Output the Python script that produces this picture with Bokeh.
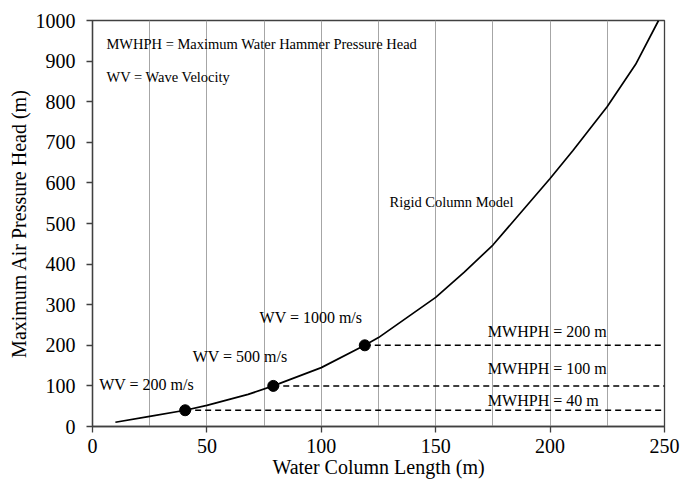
from bokeh.plotting import figure
from bokeh.models import Range1d, SingleIntervalTicker
from bokeh.core.properties import value
from bokeh.embed import file_html
from bokeh.resources import INLINE

# Rigid column model curve
curve_x = [10, 25, 40.5, 50, 68, 79, 100, 119, 125, 150, 162.5, 175, 200, 210, 225, 237.4, 247.4]
curve_y = [10.5, 25, 40, 52, 79, 100, 145, 200, 219, 318, 380, 447, 611, 680, 788, 892, 1000]

# Marked points (WV cases) and MWHPH levels
pt_x = [40.5, 79, 119]
pt_y = [40, 100, 200]
x_end = 250

wv_labels = ["WV = 200 m/s", "WV = 500 m/s", "WV = 1000 m/s"]
mw_labels = ["MWHPH = 40 m", "MWHPH = 100 m", "MWHPH = 200 m"]
note_labels = ["MWHPH = Maximum Water Hammer Pressure Head", "WV = Wave Velocity", "Rigid Column Model"]

# label anchor positions (left-middle)
wv_lx = [2.9, 43.8, 73.0]
wv_ly = [103, 173, 268]
mw_lx = [172.8, 172.8, 172.8]
mw_ly = [65, 144, 233]
note_lx = [6.1, 6.1, 129.8]
note_ly = [941, 860, 553]

FONT = "Liberation Serif"

p = figure(frame_width=572, frame_height=406,
           min_border_left=92, min_border_top=20, min_border_right=20, min_border_bottom=10,
           x_range=Range1d(0, 250), y_range=Range1d(0, 1000),
           output_backend="svg", toolbar_location=None)

p.background_fill_color = "white"
p.border_fill_color = "white"
p.outline_line_color = "#404040"
p.outline_line_width = 1.3

p.xaxis.ticker = SingleIntervalTicker(interval=50, num_minor_ticks=0)
p.yaxis.ticker = SingleIntervalTicker(interval=100, num_minor_ticks=0)
p.xgrid.ticker = SingleIntervalTicker(interval=25, num_minor_ticks=0)
p.xgrid.grid_line_color = "#a6a6a6"
p.xgrid.grid_line_width = 1
p.ygrid.visible = False

for ax in (p.xaxis, p.yaxis):
    ax.axis_line_color = "#404040"
    ax.axis_line_width = 1.3
    ax.major_tick_line_color = "#404040"
    ax.major_tick_line_width = 1.3
    ax.major_tick_out = 6
    ax.major_tick_in = 0
    ax.minor_tick_line_color = None
    ax.major_label_text_font = FONT
    ax.major_label_text_font_size = "20px"
    ax.major_label_text_color = "black"
    ax.axis_label_text_font = FONT
    ax.axis_label_text_font_size = "20px"
    ax.axis_label_text_font_style = "normal"
    ax.axis_label_text_color = "black"

p.xaxis.axis_label = "Water Column Length (m)"
p.yaxis.axis_label = "Maximum Air Pressure Head (m)"
p.xaxis.major_label_standoff = 6
p.yaxis.major_label_standoff = 11
p.xaxis.axis_label_standoff = 0
p.yaxis.axis_label_standoff = 3

p.line(curve_x, curve_y, line_color="black", line_width=1.7)
p.segment(x0=pt_x, y0=pt_y, x1=[x_end] * len(pt_x), y1=pt_y,
          line_color="black", line_width=1.5, line_dash="6 4")
p.scatter(pt_x, pt_y, size=11, fill_color="black", line_color="black")

p.text(x=wv_lx, y=wv_ly, text=wv_labels, text_font=value(FONT), text_font_size="16px",
       text_align="left", text_baseline="middle", text_color="black")
p.text(x=mw_lx, y=mw_ly, text=mw_labels, text_font=value(FONT), text_font_size="16px",
       text_align="left", text_baseline="middle", text_color="black")
p.text(x=note_lx, y=note_ly, text=note_labels, text_font=value(FONT), text_font_size="14.5px",
       text_align="left", text_baseline="middle", text_color="black")

open("out.html", "w").write(file_html(p, INLINE))
